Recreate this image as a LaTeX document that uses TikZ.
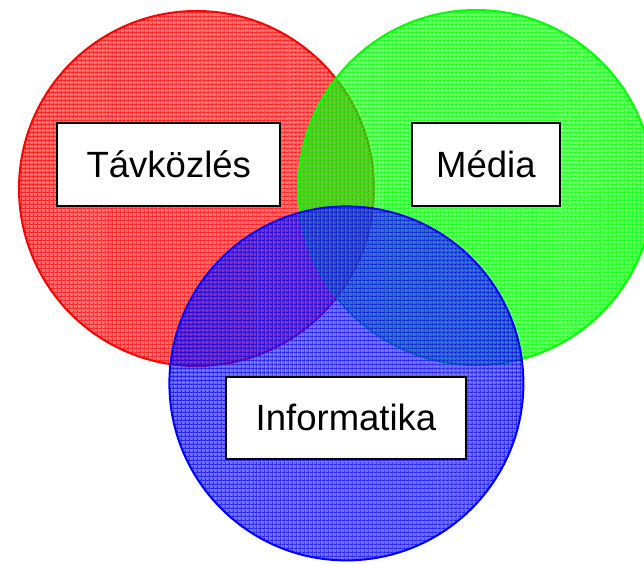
\documentclass[tikz,border=0pt]{standalone}
\usepackage{fontspec}
\setmainfont{Liberation Sans}
\usetikzlibrary{patterns.meta}
\definecolor{vred}{RGB}{255,0,0}
\definecolor{vgreen}{RGB}{0,255,0}
\definecolor{vblue}{RGB}{0,0,255}
\begin{document}
\begin{tikzpicture}[x=1pt,y=-1pt,
  vennfill/.style={fill=#1, fill opacity=0.55},
  vennh/.style={pattern={Lines[angle=0,distance=4pt,line width=1.4pt]}, pattern color=#1, fill opacity=0.7},
  vennv/.style={pattern={Lines[angle=90,distance=4pt,line width=1.4pt]}, pattern color=#1, fill opacity=0.7},
  vennline/.style={draw=#1, line width=2pt},
  labelbox/.style={draw=black, line width=2pt, fill=white, inner sep=0pt,
    font=\fontsize{36.5}{40}\selectfont, text height=26.1pt, text depth=0pt}]
\useasboundingbox (0,0) rectangle (644,563);
\clip (0,0) rectangle (644,563);
% red
\fill[vennfill=vred] (196.5,188.5) circle[radius=177.5];
\fill[vennh=vred] (196.5,188.5) circle[radius=177.5];
\fill[vennv=vred] (196.5,188.5) circle[radius=177.5];
\draw[vennline=vred] (196.5,188.5) circle[radius=177.5];
% green
\fill[vennfill=vgreen] (476,187.5) circle[radius=177.5];
\fill[vennh=vgreen] (476,187.5) circle[radius=177.5];
\fill[vennv=vgreen] (476,187.5) circle[radius=177.5];
\draw[vennline=vgreen] (476,187.5) circle[radius=177.5];
% blue
\fill[vennfill=vblue] (346.4,383.4) circle[radius=177];
\fill[vennh=vblue] (346.4,383.4) circle[radius=177];
\fill[vennv=vblue] (346.4,383.4) circle[radius=177];
\draw[vennline=vblue] (346.4,383.4) circle[radius=177];
% labels
\node[labelbox, minimum width=223pt, minimum height=83pt] (tav) at (168.8,164.8) {Távközlés};
\node[labelbox, minimum width=148.3pt, minimum height=83pt] (med) at (485.9,164.8) {Média};
\node[labelbox, minimum width=240.8pt, minimum height=82.4pt] (inf) at (346,417.8) {Informatika};
\end{tikzpicture}
\end{document}
